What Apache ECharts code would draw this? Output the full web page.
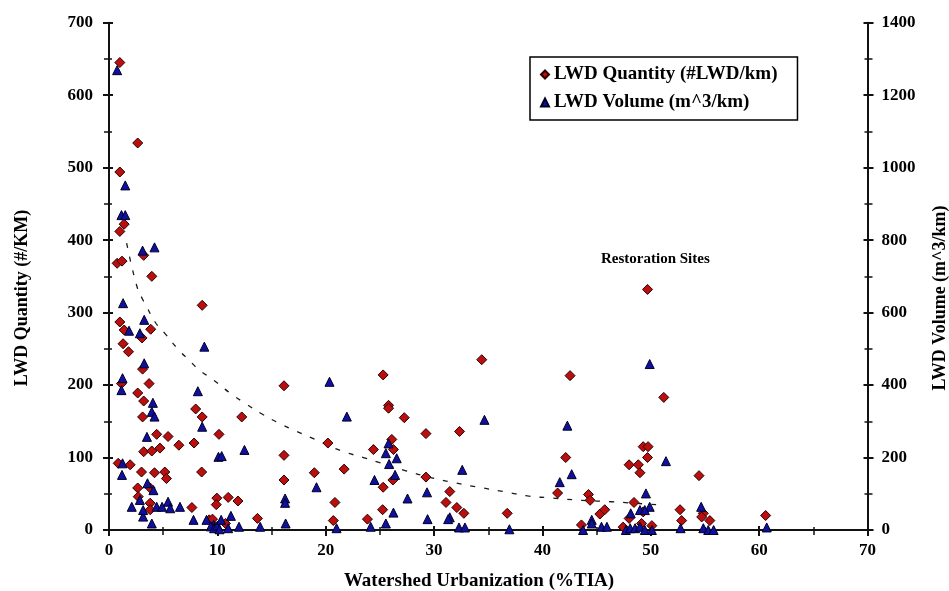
<!DOCTYPE html>
<html>
<head>
<meta charset="utf-8">
<script src="https://cdn.jsdelivr.net/npm/echarts@6/dist/echarts.min.js"></script>
<style>
  html, body { margin: 0; padding: 0; background: #fff; }
  #chart { width: 949px; height: 591px; }
</style>
</head>
<body>
<div id="chart"></div>
<script>
// Large woody debris vs. watershed urbanization (% total impervious area)

// LWD quantity, pieces per km: [%TIA, #/km]
const quantityPoints = [
  [1.0,645],[2.65,534],[1.0,494],[1.4,422],[1.0,412],[3.2,379],[0.75,368],[1.2,371],[3.95,350],
  [8.6,310],[1.0,287],[1.4,276],[3.85,277],[3.05,265],[1.3,257],[1.8,246],[3.1,222],[1.15,202],
  [3.7,202],[2.65,189],[3.2,178],[8.0,167],[8.6,156],[3.1,156],[10.15,132],[4.4,132],[5.45,129],
  [6.45,117],[7.85,120],[3.2,108],[3.95,109],[4.7,113],[0.85,92],[1.95,90],[3.0,80],[4.2,79],
  [5.15,80],[5.3,71],[8.55,80],[2.65,58],[3.8,58],[2.7,46],[3.8,37],[3.8,28],[7.65,31],[9.95,44],
  [9.9,35],[11.0,45],[11.9,40],[9.25,14],[9.55,15],[10.75,9],[9.75,5],[13.7,16],[25.3,214],
  [16.15,199],[25.8,172],[25.8,168],[12.25,156],[26.1,125],[20.2,120],[24.4,111],[26.25,111],
  [16.15,103],[18.95,79],[21.7,84],[26.2,69],[16.15,69],[25.3,59],[20.85,38],[25.25,28],[20.7,13],
  [23.85,15],[27.25,155],[34.4,235],[42.55,213],[29.25,133],[32.35,136],[42.15,100],[29.25,73],
  [31.45,53],[41.4,51],[31.1,38],[32.1,31],[32.75,23],[36.75,23],[49.7,332],[51.2,183],[49.3,115],
  [49.75,115],[49.7,100],[48.0,90],[48.85,90],[49.0,79],[54.45,75],[44.25,49],[44.4,41],[48.45,38],
  [49.3,25],[45.3,22],[45.75,28],[48.0,16],[52.7,28],[54.85,23],[54.7,18],[55.45,13],[52.85,13],
  [60.6,20],[43.6,7],[47.45,4],[49.15,9],[50.1,6]
];

// LWD volume, m^3 per km: [%TIA, m^3/km]
const volumePoints = [
  [0.75,1269],[1.5,951],[1.15,869],[1.5,869],[3.1,771],[4.2,780],[1.3,626],[3.25,580],[1.85,550],
  [2.85,543],[8.8,506],[3.25,460],[1.25,419],[1.15,386],[8.2,383],[4.05,351],[3.95,326],[4.2,313],
  [8.6,285],[3.5,257],[10.1,202],[1.25,184],[1.2,152],[3.55,129],[4.1,110],[2.85,83],[2.1,64],
  [4.4,64],[4.9,64],[5.45,78],[5.65,60],[6.55,64],[3.15,37],[3.15,55],[3.95,18],[7.8,28],[9.0,28],
  [9.65,14],[20.35,409],[21.95,313],[25.8,239],[25.55,212],[26.55,198],[10.4,204],[12.5,221],
  [25.85,182],[26.4,152],[24.5,138],[19.15,118],[16.25,87],[16.25,75],[26.25,48],[11.25,39],
  [9.4,10],[9.7,5],[10.0,12],[10.2,2],[11.0,5],[12.0,9],[13.95,9],[16.3,18],[21.0,5],[24.15,9],
  [25.55,18],[10.35,28],[34.65,304],[42.3,288],[32.6,166],[42.7,154],[29.35,104],[41.6,132],
  [27.55,87],[31.45,35],[31.3,30],[29.4,30],[32.3,7],[32.85,7],[36.95,2],[49.9,458],[51.4,190],
  [49.55,101],[49.9,64],[49.0,55],[49.45,55],[48.15,46],[54.65,64],[60.7,7],[44.55,28],[44.55,18],
  [43.75,0],[45.45,9],[45.95,9],[47.7,0],[48.1,5],[48.55,5],[49.0,9],[49.45,0],[50.1,0],[52.75,5],
  [54.85,5],[55.3,0],[55.8,0]
];

// Trend curve through the quantity data (left axis units)
const trendPoints = [
  [1.63,396],[2.56,337],[3.11,318],[3.48,308],[4.25,287],[5.17,271],[6.34,250],[7.41,234],
  [8.24,222],[9.63,207],[11.17,189],[12.64,174],[14.24,159],[15.48,149],[17.32,136],[19.32,123],
  [21.47,109],[23.47,100],[27.32,82],[29.78,72],[31.93,65],[34.49,58],[36.79,52],[38.64,47],
  [41.0,44],[43.62,41],[46.39,39],[48.38,37],[50.54,35]
];

// Threshold marker (%TIA)
const thresholdTIA = 5.1;

const seriesNames = ['LWD Quantity (#LWD/km)', 'LWD Volume (m^3/km)'];
const xTitle = 'Watershed Urbanization (%TIA)';
const yLeftTitle = 'LWD Quantity (#/KM)';
const yRightTitle = 'LWD Volume (m^3/km)';
const noteText = 'Restoration Sites';

const FONT = '"Liberation Serif", "Times New Roman", serif';

const chart = echarts.init(document.getElementById('chart'), null, { renderer: 'canvas' });

const axisTextStyle = { fontFamily: FONT, fontWeight: 'bold', fontSize: 17, color: '#000' };
const axisLine = { show: true, lineStyle: { color: '#111', width: 2 } };
const plainNumber = v => String(v);
const plotRect = { left: 109, right: 81.5, top: 22.7, bottom: 61, containLabel: false };

// Outward ticks on the labelled axes (grid 0)
const outerTicks = {
  axisTick: { show: true, length: 6, lineStyle: { color: '#111', width: 2 } },
  minorTick: { show: true, splitNumber: 2, length: 5, lineStyle: { color: '#111', width: 1.5 } }
};
// Twin axes on an identical grid 1 draw the inward half, so ticks cross the axis line
function innerTwin(base) {
  return Object.assign({}, base, {
    gridIndex: 1,
    axisLine: { show: false },
    axisLabel: { show: false },
    splitLine: { show: false },
    axisTick: { show: true, inside: true, length: 4, lineStyle: { color: '#111', width: 2 } },
    minorTick: { show: true, splitNumber: 2, length: 3, lineStyle: { color: '#111', width: 1.5 } }
  });
}

const xBase = { type: 'value', min: 0, max: 70, interval: 10, position: 'bottom' };
const yLeftBase = { type: 'value', min: 0, max: 700, interval: 100, position: 'left' };
const yRightBase = { type: 'value', min: 0, max: 1400, interval: 200, position: 'right' };

chart.setOption({
  backgroundColor: '#ffffff',
  animation: false,
  grid: [plotRect, Object.assign({}, plotRect)],
  legend: {
    data: [
      { name: seriesNames[0], icon: 'diamond' },
      { name: seriesNames[1], icon: 'triangle' }
    ],
    orient: 'vertical',
    left: 530,
    top: 57,
    itemWidth: 8,
    itemHeight: 8,
    itemGap: 9,
    padding: [8, 20, 8, 10],
    borderColor: '#000',
    borderWidth: 1.5,
    backgroundColor: '#fff',
    textStyle: { fontFamily: FONT, fontWeight: 'bold', fontSize: 19, color: '#000' }
  },
  xAxis: [
    Object.assign({}, xBase, outerTicks, {
      gridIndex: 0,
      axisLine: axisLine,
      splitLine: { show: false },
      axisLabel: Object.assign({ margin: 12, formatter: plainNumber }, axisTextStyle)
    }),
    innerTwin(xBase)
  ],
  yAxis: [
    Object.assign({}, yLeftBase, outerTicks, {
      gridIndex: 0,
      axisLine: axisLine,
      splitLine: { show: false },
      axisLabel: Object.assign({ margin: 16, formatter: plainNumber }, axisTextStyle)
    }),
    Object.assign({}, yRightBase, outerTicks, {
      gridIndex: 0,
      axisLine: axisLine,
      splitLine: { show: false },
      axisLabel: Object.assign({ margin: 14, formatter: plainNumber }, axisTextStyle)
    }),
    innerTwin(yLeftBase),
    innerTwin(yRightBase)
  ],
  series: [
    {
      name: 'trend',
      type: 'line',
      xAxisIndex: 0,
      yAxisIndex: 0,
      data: trendPoints,
      smooth: true,
      showSymbol: false,
      symbol: 'none',
      silent: true,
      z: 1,
      lineStyle: { color: '#1a1a1a', width: 1.3, type: [5, 9] },
      markLine: {
        silent: true,
        symbol: 'none',
        label: { show: false },
        lineStyle: { color: '#333', width: 2, type: [2, 7] },
        data: [[{ coord: [thresholdTIA, 0] }, { coord: [thresholdTIA, 712] }]]
      }
    },
    {
      name: seriesNames[0],
      type: 'scatter',
      xAxisIndex: 0,
      yAxisIndex: 0,
      data: quantityPoints,
      symbol: 'diamond',
      symbolSize: 10,
      z: 3,
      itemStyle: { color: '#bb0e0e', borderColor: '#2a0000', borderWidth: 1, opacity: 1 }
    },
    {
      name: seriesNames[1],
      type: 'scatter',
      xAxisIndex: 0,
      yAxisIndex: 1,
      data: volumePoints,
      symbol: 'triangle',
      symbolSize: 9,
      z: 4,
      itemStyle: { color: '#1010a0', borderColor: '#000022', borderWidth: 1, opacity: 1 }
    }
  ],
  graphic: [
    {
      type: 'text',
      x: 479, y: 581,
      style: { text: xTitle, font: 'bold 19px ' + FONT, fill: '#000', align: 'center', verticalAlign: 'middle' }
    },
    {
      type: 'text',
      x: 22, y: 298,
      rotation: Math.PI / 2,
      style: { text: yLeftTitle, font: 'bold 18px ' + FONT, fill: '#000', align: 'center', verticalAlign: 'middle' }
    },
    {
      type: 'text',
      x: 940, y: 298,
      rotation: Math.PI / 2,
      style: { text: yRightTitle, font: 'bold 18px ' + FONT, fill: '#000', align: 'center', verticalAlign: 'middle' }
    },
    {
      type: 'text',
      x: 601, y: 259,
      style: { text: noteText, font: 'bold 15px ' + FONT, fill: '#000', verticalAlign: 'middle' }
    }
  ]
});
</script>
</body>
</html>
